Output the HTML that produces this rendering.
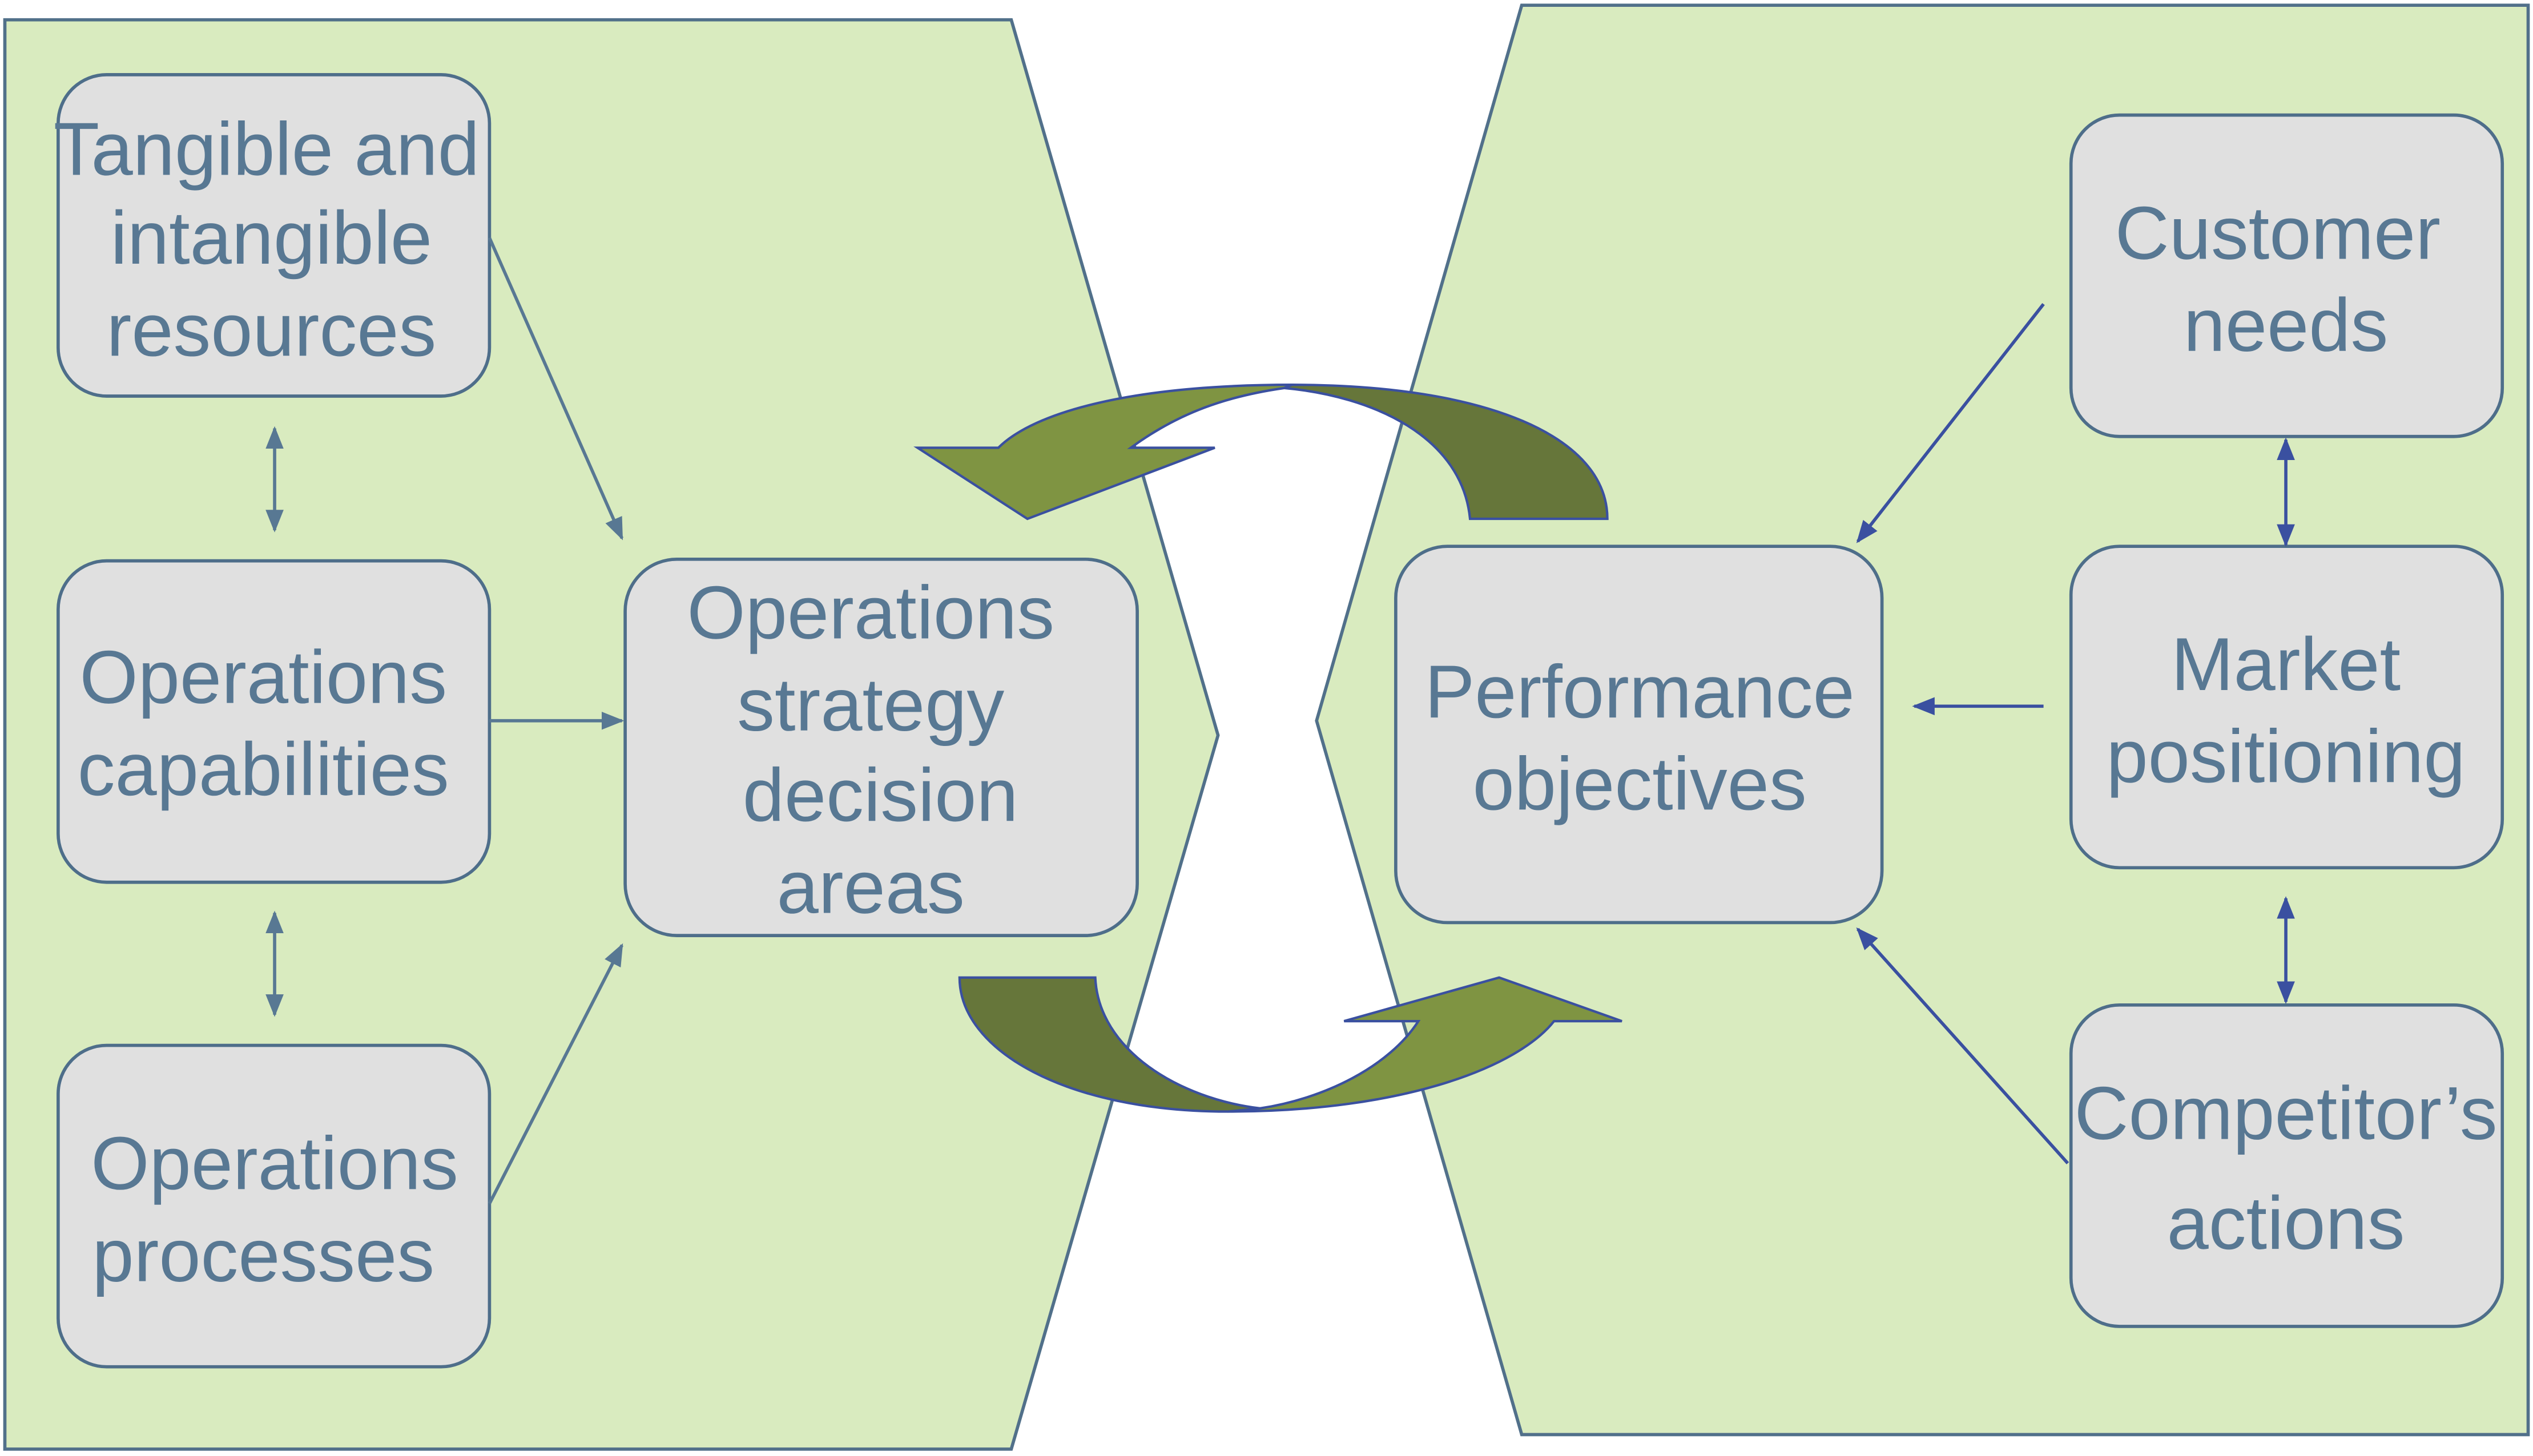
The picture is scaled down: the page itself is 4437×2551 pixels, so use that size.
<!DOCTYPE html>
<html><head><meta charset="utf-8"><style>
html,body{margin:0;padding:0;background:#fff;}
svg{display:block;}
text{font-family:"Liberation Sans",sans-serif;font-size:46.5px;fill:#587893;text-anchor:middle;}
</style></head><body>
<svg width="4437" height="2551" viewBox="0 0 1568 901" xmlns="http://www.w3.org/2000/svg">
<defs>
<marker id="ag" viewBox="0 0 10 10" refX="9" refY="5" markerWidth="14" markerHeight="14" markerUnits="userSpaceOnUse" orient="auto-start-reverse"><path d="M0,1 L10,5 L0,9 Z" fill="#587893"/></marker>
<marker id="ab" viewBox="0 0 10 10" refX="9" refY="5" markerWidth="14" markerHeight="14" markerUnits="userSpaceOnUse" orient="auto-start-reverse"><path d="M0,1 L10,5 L0,9 Z" fill="#3a50a0"/></marker>
</defs>
<polygon points="3,12 626,12 754,455 626,897 3,897" fill="#d9ebbf" stroke="#51708a" stroke-width="2"/>
<polygon points="942,3 1565,3 1565,888 942,888 815,446" fill="#d9ebbf" stroke="#51708a" stroke-width="2"/>
<g fill="#e0e0e0" stroke="#4e6e8a" stroke-width="2">
<rect x="36" y="46" width="267" height="199" rx="30"/>
<rect x="36" y="347" width="267" height="199" rx="30"/>
<rect x="36" y="647" width="267" height="199" rx="30"/>
<rect x="387" y="346" width="317" height="233" rx="32"/>
<rect x="864" y="338" width="301" height="233" rx="32"/>
<rect x="1282" y="71" width="267" height="199" rx="30"/>
<rect x="1282" y="338" width="267" height="199" rx="30"/>
<rect x="1282" y="622" width="267" height="199" rx="30"/>
</g>
<text x="165" y="108">Tangible and</text>
<text x="168" y="163">intangible</text>
<text x="168" y="220">resources</text>
<text x="163" y="435">Operations</text>
<text x="163" y="492">capabilities</text>
<text x="170" y="736">Operations</text>
<text x="163" y="793">processes</text>
<text x="539" y="395">Operations</text>
<text x="539" y="452">strategy</text>
<text x="545" y="508">decision</text>
<text x="539" y="565">areas</text>
<text x="1015" y="444">Performance</text>
<text x="1015" y="501">objectives</text>
<text x="1410" y="160">Customer</text>
<text x="1415" y="217">needs</text>
<text x="1415" y="427">Market</text>
<text x="1415" y="484">positioning</text>
<text x="1415" y="705">Competitor’s</text>
<text x="1415" y="773">actions</text>
<g stroke="#587893" stroke-width="2" fill="none">
<line x1="303" y1="147" x2="385" y2="333" marker-end="url(#ag)"/>
<line x1="303" y1="446" x2="385" y2="446" marker-end="url(#ag)"/>
<line x1="303" y1="745" x2="385" y2="585" marker-end="url(#ag)"/>
<line x1="170" y1="265" x2="170" y2="328" marker-start="url(#ag)" marker-end="url(#ag)"/>
<line x1="170" y1="565" x2="170" y2="628" marker-start="url(#ag)" marker-end="url(#ag)"/>
</g>
<g stroke="#3a50a0" stroke-width="2" fill="none">
<line x1="1265" y1="188" x2="1150" y2="335" marker-end="url(#ab)"/>
<line x1="1265" y1="437" x2="1185" y2="437" marker-end="url(#ab)"/>
<line x1="1280" y1="720" x2="1150" y2="575" marker-end="url(#ab)"/>
<line x1="1415" y1="272" x2="1415" y2="337" marker-start="url(#ab)" marker-end="url(#ab)"/>
<line x1="1415" y1="556" x2="1415" y2="620" marker-start="url(#ab)" marker-end="url(#ab)"/>
</g>
<g stroke="#3a50a0" stroke-width="1.5">
<path d="M800,238 C700,238 640,255 618,277 L568,277 L636,321 L752,277 L700,277 C730,255 760,245 795,240 Z" fill="#7f9442"/>
<path d="M910,321 C905,270 850,245 795,240 L800,238 C920,238 995,270 995,321 Z" fill="#66763a"/>
<path d="M760,688 C870,688 940,660 962,632 L1004,632 L928,605 L832,632 L878,632 C860,660 820,680 780,686 Z" fill="#7f9442"/>
<path d="M594,605 L678,605 C680,650 730,680 780,686 L760,688 C660,688 594,650 594,605 Z" fill="#66763a"/>
</g>
</svg>
</body></html>
